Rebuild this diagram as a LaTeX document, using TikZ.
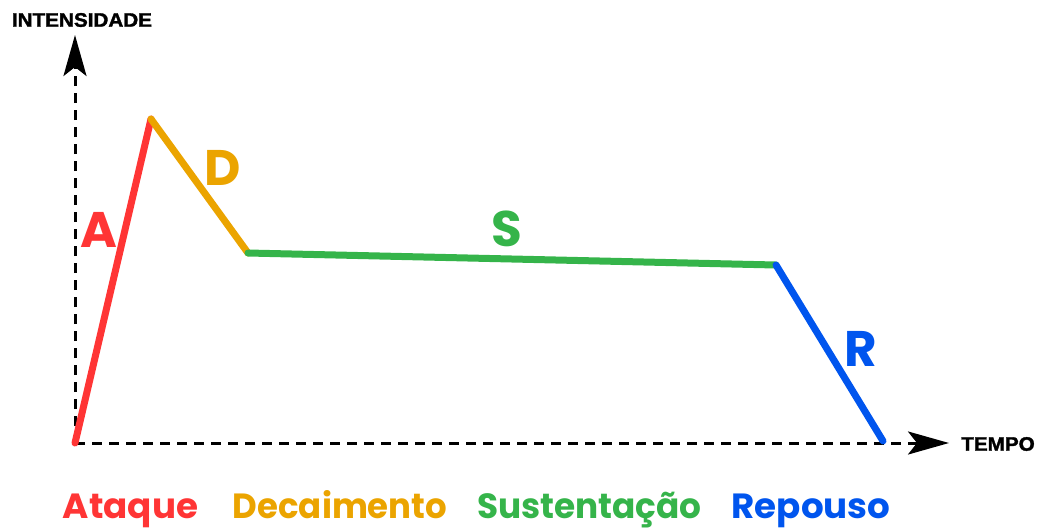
\documentclass[tikz,border=0pt]{standalone}
\usepackage{fontspec}
\setmainfont{Liberation Sans}
\newfontfamily\geo{Poppins}
\newfontfamily\heavy[FakeBold=1.6]{Liberation Sans Bold}
\usetikzlibrary{arrows.meta}
\definecolor{cA}{HTML}{FF3535}
\definecolor{cD}{HTML}{EBA400}
\definecolor{cS}{HTML}{35B44A}
\definecolor{cR}{HTML}{0055EE}
\tikzset{
  axisline/.style={line width=3pt, dash pattern=on 10pt off 7pt, -{Stealth[length=41pt,width=23pt,inset=9pt]}},
  env/.style={line width=7pt, line cap=round},
  seglabel/.style={font=\geo\bfseries\fontsize{50}{50}\selectfont, inner sep=0pt},
  legend/.style={font=\geo\bfseries\fontsize{35}{35}\selectfont, inner sep=0pt, anchor=base},
  axlabel/.style={font=\heavy\fontsize{19.5}{19.5}\selectfont, inner sep=0pt},
}
\begin{document}
\begin{tikzpicture}[x=1pt,y=-1pt]
\useasboundingbox (0,0) rectangle (1038,531);
\coordinate (O) at (75,443);
\coordinate (Ytip) at (75,35);
\coordinate (Xtip) at (949,443);
\coordinate (P1) at (151,119);
\coordinate (P2) at (248,253);
\coordinate (P3) at (776,265);
\coordinate (P4) at (883,441);
\draw[axisline] (O) -- (Ytip);
\draw[axisline] (O) -- (Xtip);
\draw[env, cA] (O) -- (P1);
\draw[env, cD] (P1) -- (P2);
\draw[env, cS] (P2) -- (P3);
\draw[env, cR] (P3) -- (P4);
\node[seglabel, text=cA] (lA) at (99,230) {A};
\node[seglabel, text=cD] (lD) at (223,168) {D};
\node[seglabel, text=cS] (lS) at (507,229) {S};
\node[seglabel, text=cR] (lR) at (861,349) {R};
\node[axlabel] (lI) at (82,20) {\scalebox{1.06}[1]{INTENSIDADE}};
\node[axlabel] (lT) at (998,444) {\scalebox{1.06}[1]{TEMPO}};
\node[legend, text=cA] (gA) at (130.5,518) {\scalebox{1.02}[1]{Ataque}};
\node[legend, text=cD] (gD) at (340,518) {\scalebox{0.97}[1]{Decaimento}};
\node[legend, text=cS] (gS) at (589.5,518) {\scalebox{0.98}[1]{Sustentação}};
\node[legend, text=cR] (gR) at (811,518) {\scalebox{1.02}[1]{Repouso}};
\end{tikzpicture}
\end{document}
